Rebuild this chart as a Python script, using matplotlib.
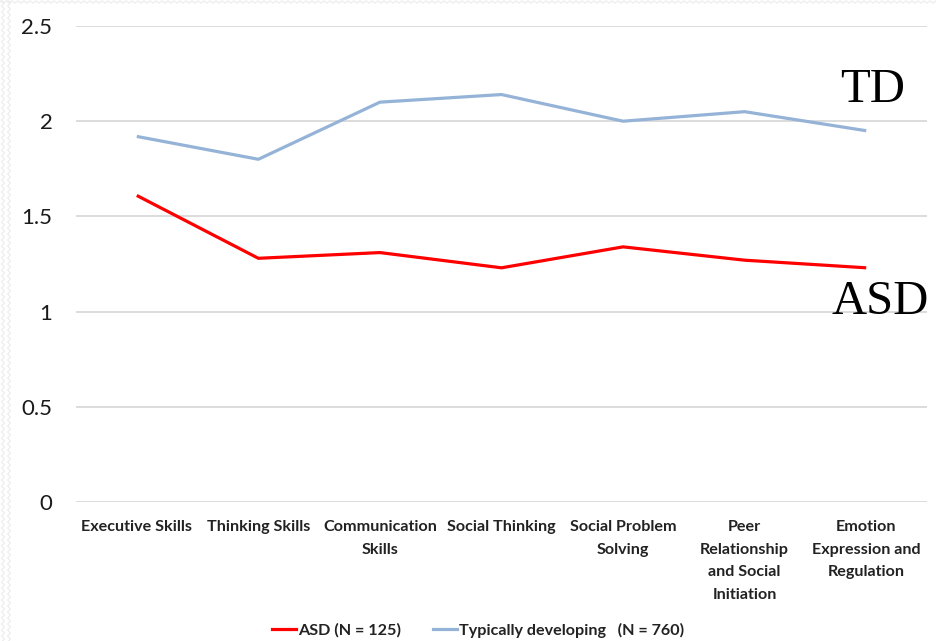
import numpy as np
import matplotlib
matplotlib.use("Agg")
import matplotlib.pyplot as plt
from matplotlib.lines import Line2D

categories = [
    "Executive Skills",
    "Thinking Skills",
    "Communication\nSkills",
    "Social Thinking",
    "Social Problem\nSolving",
    "Peer\nRelationship\nand Social\nInitiation",
    "Emotion\nExpression and\nRegulation",
]
asd_values = [1.61, 1.28, 1.31, 1.23, 1.34, 1.27, 1.23]
td_values = [1.92, 1.80, 2.10, 2.14, 2.00, 2.05, 1.95]
y_ticks = [0, 0.5, 1, 1.5, 2, 2.5]
y_tick_labels = ["0", "0.5", "1", "1.5", "2", "2.5"]
series_labels = ["ASD (N = 125)", "Typically developing   (N = 760)"]

W, H = 936, 641
fig = plt.figure(figsize=(W / 100, H / 100), dpi=100)
fig.patch.set_facecolor("white")

# faint zigzag texture along the left and top edges
bg = fig.add_axes([0, 0, 1, 1], zorder=-10)
bg.set_xlim(0, W)
bg.set_ylim(H, 0)
bg.axis("off")
zz_y = np.arange(0, H + 6, 3)
for x0 in (3, 9):
    zz_x = x0 + np.where(np.arange(len(zz_y)) % 2 == 0, -1.5, 1.5)
    bg.plot(zz_x, zz_y, color="#ececec", lw=0.8)
zz_x = np.arange(0, W + 6, 3)
zz_yt = 2 + np.where(np.arange(len(zz_x)) % 2 == 0, -1.2, 1.2)
bg.plot(zz_x, zz_yt, color="#ececec", lw=0.8)

left, right, top, bottom = 76, 927, 26, 502
ax = fig.add_axes([left / W, 1 - bottom / H, (right - left) / W, (bottom - top) / H])
x = np.arange(len(categories))

ax.plot(x, asd_values, color="#ff0000", lw=2.3, solid_capstyle="butt", zorder=3)
ax.plot(x, td_values, color="#95b3d7", lw=2.3, solid_capstyle="butt", zorder=3)

ax.set_xlim(-0.5, len(categories) - 0.5)
ax.set_ylim(0, 2.5)
ax.set_yticks(y_ticks)
ax.set_yticklabels(y_tick_labels, fontsize=16, fontfamily="Lato", color="#1a1a1a")
ax.set_xticks(x)
ax.set_xticklabels(categories, fontsize=11.6, fontfamily="Lato", fontweight="bold",
                   color="#222222", linespacing=1.78, va="top")
ax.tick_params(axis="both", length=0)
ax.tick_params(axis="y", pad=17)
ax.tick_params(axis="x", pad=13)
ax.grid(axis="y", color="#d9d9d9", lw=1.3)
ax.set_axisbelow(True)
for s in ax.spines.values():
    s.set_visible(False)

fig.text(873 / W, 1 - 90 / H, "TD", fontfamily="Liberation Serif", fontsize=35,
         ha="center", va="center", color="black")
fig.text(880 / W, 1 - 302 / H, "ASD", fontfamily="Liberation Serif", fontsize=35,
         ha="center", va="center", color="black")

handles = [Line2D([], [], color="#ff0000", lw=2.3),
           Line2D([], [], color="#95b3d7", lw=2.3)]
fig.legend(handles, series_labels, loc="center", bbox_to_anchor=(478 / W, 1 - 630 / H),
           ncol=2, frameon=False, handlelength=1.5, handletextpad=0.1,
           columnspacing=2.0,
           prop={"family": "Lato", "weight": "bold", "size": 11.6})
for t in fig.legends[0].get_texts():
    t.set_color("#222222")

fig.savefig("out.png", dpi=100, facecolor="white")
